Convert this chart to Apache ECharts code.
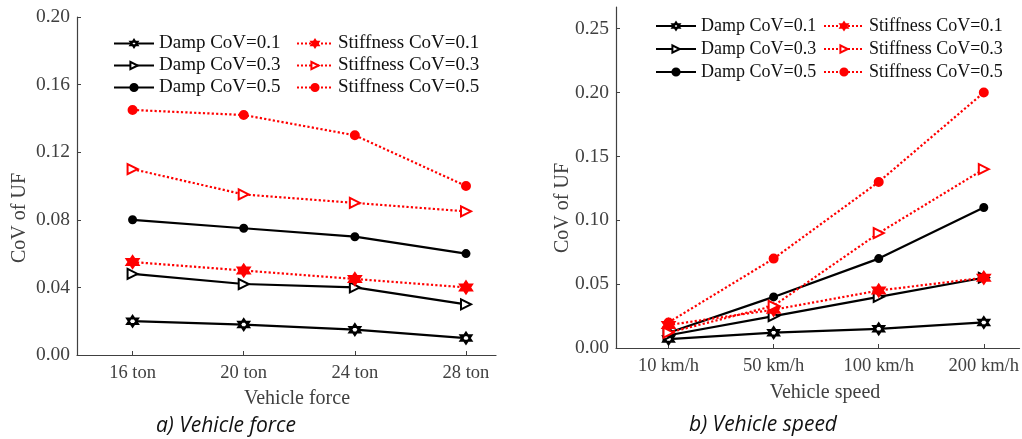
<!DOCTYPE html>
<html>
<head>
<meta charset="utf-8">
<script src="https://cdn.jsdelivr.net/npm/echarts@6/dist/echarts.min.js"></script>
<style>
html,body{margin:0;padding:0;background:#fff;}
#c{width:1022px;height:439px;}
</style>
</head>
<body>
<div id="c"></div>
<script>
// ---- data ----
const forceCats = ['16 ton', '20 ton', '24 ton', '28 ton'];
const speedCats = ['10 km/h', '50 km/h', '100 km/h', '200 km/h'];
const seriesNames = ['Damp CoV=0.1', 'Damp CoV=0.3', 'Damp CoV=0.5', 'Stiffness CoV=0.1', 'Stiffness CoV=0.3', 'Stiffness CoV=0.5'];

const forceDamp01 = [0.020, 0.018, 0.015, 0.010];
const forceDamp03 = [0.048, 0.042, 0.040, 0.030];
const forceDamp05 = [0.080, 0.075, 0.070, 0.060];
const forceStiff01 = [0.055, 0.050, 0.045, 0.040];
const forceStiff03 = [0.110, 0.095, 0.090, 0.085];
const forceStiff05 = [0.145, 0.142, 0.130, 0.100];

const speedDamp01 = [0.007, 0.012, 0.015, 0.020];
const speedDamp03 = [0.010, 0.025, 0.040, 0.055];
const speedDamp05 = [0.012, 0.040, 0.070, 0.110];
const speedStiff01 = [0.018, 0.030, 0.045, 0.055];
const speedStiff03 = [0.012, 0.033, 0.090, 0.140];
const speedStiff05 = [0.020, 0.070, 0.130, 0.200];

const forceTicks = [0, 0.04, 0.08, 0.12, 0.16, 0.20];
const speedTicks = [0, 0.05, 0.10, 0.15, 0.20, 0.25];

// ---- styles ----
const HEX = 'path://M0,-10L8.66,5L-8.66,5Z M0,10L-8.66,-5L8.66,-5Z';
const RED = '#ff0000';
const BLK = '#000000';
const styles = {
  'Damp CoV=0.1': {color: BLK, type: 'solid', symbol: HEX, size: 11, rot: 0, fill: '#ffffff'},
  'Damp CoV=0.3': {color: BLK, type: 'solid', symbol: 'triangle', size: 10, rot: -90, fill: '#ffffff'},
  'Damp CoV=0.5': {color: BLK, type: 'solid', symbol: 'circle', size: 7, rot: 0, fill: BLK},
  'Stiffness CoV=0.1': {color: RED, type: 'dotted', symbol: HEX, size: 12, rot: 0, fill: RED},
  'Stiffness CoV=0.3': {color: RED, type: 'dotted', symbol: 'triangle', size: 10, rot: -90, fill: '#ffffff'},
  'Stiffness CoV=0.5': {color: RED, type: 'dotted', symbol: 'circle', size: 8, rot: 0, fill: RED}
};

function mk(name, vals, idx) {
  const s = styles[name];
  return {
    name: name, type: 'line', xAxisIndex: idx, yAxisIndex: idx,
    data: vals.map((v, i) => [i, v]),
    symbol: s.symbol, symbolSize: s.size, symbolRotate: s.rot,
    showAllSymbol: true, animation: false,
    lineStyle: {color: s.color, width: 2.2, type: s.type},
    itemStyle: {color: s.fill, borderColor: s.color, borderWidth: 2},
    z: s.color === RED ? 3 : 2
  };
}

const SERIF = '"Liberation Serif", "Times New Roman", serif';
const AX = '#404040';

function xAxisCfg(idx, cats, maxV) {
  return {
    type: 'value', gridIndex: idx, min: -0.5, max: maxV,
    splitLine: {show: false},
    axisLine: {show: true, onZero: false, lineStyle: {color: AX, width: 1.2}},
    axisTick: {show: true, inside: true, length: 4, customValues: [0, 1, 2, 3], lineStyle: {color: AX}},
    axisLabel: {customValues: [0, 1, 2, 3], formatter: v => cats[Math.round(v)], fontFamily: SERIF, fontSize: 18.5, color: AX, margin: 9}
  };
}
function yAxisCfg(idx, ticks, maxV) {
  return {
    type: 'value', gridIndex: idx, min: 0, max: maxV,
    splitLine: {show: false},
    axisLine: {show: true, onZero: false, lineStyle: {color: AX, width: 1.2}},
    axisTick: {show: true, inside: true, length: 4, customValues: ticks, lineStyle: {color: AX}},
    axisLabel: {customValues: ticks, formatter: v => v.toFixed(2), fontFamily: SERIF, fontSize: 19.5, color: AX, margin: 7}
  };
}
function legendCfg(names, left, top, gap, fs, w) {
  return {
    orient: 'vertical', left: left, top: top, itemGap: gap, itemWidth: w, itemHeight: 9,
    data: names, selectedMode: false, padding: 0,
    textStyle: {fontFamily: SERIF, fontSize: fs, color: '#111'}
  };
}
function txt(x, y, text, opts) {
  return Object.assign({
    type: 'text', x: x, y: y, silent: true,
    style: Object.assign({text: text, fill: AX, font: '20px ' + SERIF, align: 'center', verticalAlign: 'middle', textAlign: 'center', textVerticalAlign: 'middle'}, opts && opts.style)
  }, opts && opts.el);
}

const chart = echarts.init(document.getElementById('c'), null, {renderer: 'canvas'});
chart.setOption({
  animation: false,
  backgroundColor: '#ffffff',
  grid: [
    {left: 77, top: 17, right: 1022 - 496, bottom: 439 - 355},
    {left: 616, top: 7, right: 0, bottom: 439 - 348}
  ],
  xAxis: [xAxisCfg(0, forceCats, 3.27), xAxisCfg(1, speedCats, 3.34)],
  yAxis: [yAxisCfg(0, forceTicks, 0.20), yAxisCfg(1, speedTicks, 0.267)],
  legend: [
    legendCfg(seriesNames.slice(0, 3), 113, 34, 3, 19, 40),
    legendCfg(seriesNames.slice(3), 296, 34, 3, 19, 36),
    legendCfg(seriesNames.slice(0, 3), 655, 17, 5, 18, 40),
    legendCfg(seriesNames.slice(3), 823, 17, 5, 18, 40)
  ],
  graphic: [
    txt(20, 218, 'CoV of UF', {el: {rotation: Math.PI / 2}}),
    txt(563, 208, 'CoV of UF', {el: {rotation: Math.PI / 2}}),
    txt(297, 399, 'Vehicle force'),
    txt(825, 393, 'Vehicle speed'),
    txt(226, 426, 'a) Vehicle force', {style: {fill: '#111', font: 'italic 21px "Open Sans", sans-serif'}}),
    txt(763, 425, 'b) Vehicle speed', {style: {fill: '#111', font: 'italic 21px "Open Sans", sans-serif'}})
  ],
  series: [
    mk('Damp CoV=0.1', forceDamp01, 0),
    mk('Damp CoV=0.3', forceDamp03, 0),
    mk('Damp CoV=0.5', forceDamp05, 0),
    mk('Stiffness CoV=0.1', forceStiff01, 0),
    mk('Stiffness CoV=0.3', forceStiff03, 0),
    mk('Stiffness CoV=0.5', forceStiff05, 0),
    mk('Damp CoV=0.1', speedDamp01, 1),
    mk('Damp CoV=0.3', speedDamp03, 1),
    mk('Damp CoV=0.5', speedDamp05, 1),
    mk('Stiffness CoV=0.1', speedStiff01, 1),
    mk('Stiffness CoV=0.3', speedStiff03, 1),
    mk('Stiffness CoV=0.5', speedStiff05, 1)
  ]
});
</script>
</body>
</html>
